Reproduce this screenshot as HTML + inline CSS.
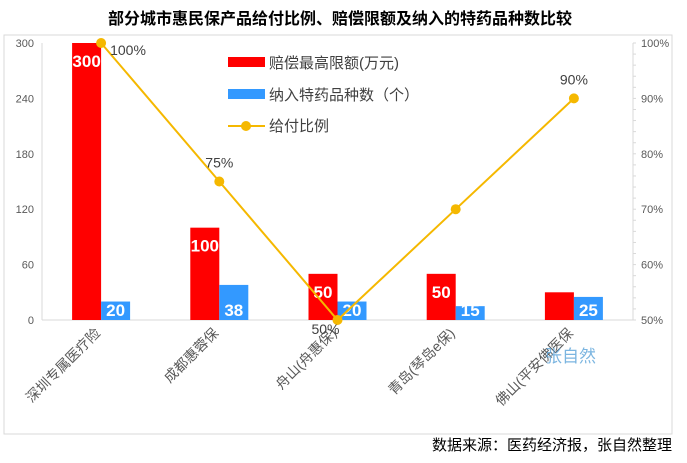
<!DOCTYPE html>
<html><head><meta charset="utf-8"><style>
body{margin:0;background:#fff;}
svg{display:block;font-family:"Liberation Sans","Noto Sans CJK SC",sans-serif;}
</style></head><body>
<svg width="687" height="463">
<rect x="4" y="35" width="668" height="399" fill="#fff" stroke="#d9d9d9"/>
<text x="340" y="24" text-anchor="middle" font-size="16" font-weight="bold" fill="#000">部分城市惠民保产品给付比例、赔偿限额及纳入的特药品种数比较</text>
<g id="axes"></g>
<g id="marks"></g>
<text x="545" y="362" font-size="17" fill="#5ba3d9" opacity="0.8">张自然</text>
<g>
<rect x="228" y="57" width="37" height="10" fill="#f00"/>
<text x="269" y="68" font-size="15" fill="#404040">赔偿最高限额(万元)</text>
<rect x="228" y="89" width="37" height="10" fill="#3399ff"/>
<text x="269" y="100" font-size="15" fill="#404040">纳入特药品种数（个）</text>
<line x1="228" y1="126" x2="265" y2="126" stroke="#f5b800" stroke-width="2"/>
<circle cx="246" cy="126" r="5" fill="#f5b800"/>
<text x="269" y="131" font-size="15" fill="#404040">给付比例</text>
</g>
<text x="672" y="450" text-anchor="end" font-size="15" fill="#000">数据来源：医药经济报，张自然整理</text>
</svg>
<script>
const categories=["深圳专属医疗险","成都惠蓉保","舟山(舟惠保)","青岛(琴岛e保)","佛山(平安佛医保"];
const compensation=[300,100,50,50,30];
const compLabels=["300","100","50","50",""];
const drugs=[20,38,20,15,25];
const ratio=[100,75,50,70,90];
const leftTicks=[0,60,120,180,240,300];
const rightTicks=[50,60,70,80,90,100];
const NS="http://www.w3.org/2000/svg";
const X0=42,X1=633,Y0=320,Y1=43;
const bw=(X1-X0)/categories.length;
const yL=v=>Y0-(v/300)*(Y0-Y1);
const yR=v=>Y0-((v-50)/50)*(Y0-Y1);
const cx=i=>X0+bw*(i+0.5);
function mk(tag,attrs,parent,text){const e=document.createElementNS(NS,tag);for(const k in attrs)e.setAttribute(k,attrs[k]);if(text!==undefined)e.textContent=text;parent.appendChild(e);return e;}
const ax=document.getElementById('axes'),mg=document.getElementById('marks');
let e;
e=mk('line',{x1:X0,y1:Y1,x2:X0,y2:Y0,stroke:'#d9d9d9'},ax);


e=mk('line',{x1:X1,y1:Y1,x2:X1,y2:Y0,stroke:'#d9d9d9'},ax);


e=mk('line',{x1:X0,y1:Y0,x2:X1,y2:Y0,stroke:'#d9d9d9'},ax);


leftTicks.forEach(t=>{e=mk('text',{x:X0-8,y:yL(t)+4,'text-anchor':'end','font-size':11,fill:'#595959'},ax,String(t));

});
rightTicks.forEach(t=>{e=mk('text',{x:X1+8,y:yR(t)+4,'font-size':11,fill:'#595959'},ax,t+'%');

});
for(let k=0;k<=25;k++){e=mk('line',{x1:X1,y1:Y0-k*(Y0-Y1)/25,x2:X1+3,y2:Y0-k*(Y0-Y1)/25,stroke:'#d9d9d9'},ax);

}
categories.forEach((c,i)=>{const x=cx(i),y=Y0+14;
e=mk('text',{x:x,y:y,'text-anchor':'end','font-size':14,fill:'#595959',transform:`rotate(-45 ${x} ${y})`},ax,c);

});
const BW=29;
categories.forEach((c,i)=>{
const x=cx(i);
e=mk('rect',{x:x-BW,y:yL(compensation[i]),width:BW,height:Y0-yL(compensation[i]),fill:'#f00'},mg);


e=mk('rect',{x:x,y:yL(drugs[i]),width:BW,height:Y0-yL(drugs[i]),fill:'#3399ff'},mg);


if(compLabels[i]){e=mk('text',{x:x-BW/2,y:yL(compensation[i])+24,'text-anchor':'middle','font-size':17,'font-weight':'bold',fill:'#fff'},mg,compLabels[i]);

}
e=mk('text',{x:x+BW/2,y:Y0-4,'text-anchor':'middle','font-size':17,'font-weight':'bold',fill:'#fff'},mg,String(drugs[i]));


});
const pts=ratio.map((v,i)=>cx(i)+','+yR(v)).join(' ');
e=mk('polyline',{points:pts,fill:'none',stroke:'#f5b800','stroke-width':2},mg);


ratio.forEach((v,i)=>{
e=mk('circle',{cx:cx(i),cy:yR(v),r:5,fill:'#f5b800'},mg);


let lx=cx(i),ly=yR(v)-14,anc='middle';
if(i===0){lx=cx(i)+9;ly=yR(v)+12;anc='start';}
if(i===2){ly=yR(v)+14;lx=cx(i)-12;}
if(i!==3){e=mk('text',{x:lx,y:ly,'text-anchor':anc,'font-size':14,fill:'#404040'},mg,v+'%');

}
});
</script>
</body></html>
